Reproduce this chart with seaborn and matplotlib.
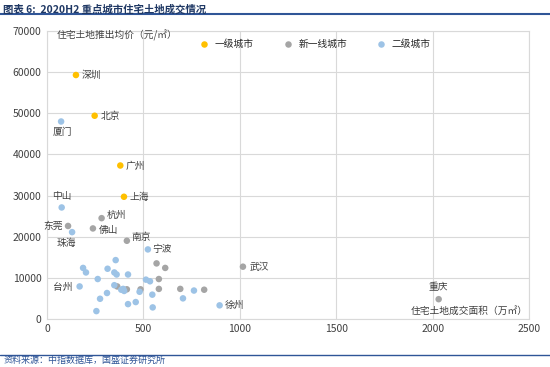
import matplotlib
matplotlib.use("Agg")
import matplotlib.pyplot as plt
import seaborn as sns
import pandas as pd
from matplotlib.lines import Line2D

# 一线城市
tier1_names = ["深圳", "北京", "广州", "上海"]
tier1_area = [150, 247, 380, 399]
tier1_price = [59300, 49400, 37300, 29700]

# 新一线城市
newtier1_names = ["杭州", "东莞", "佛山", "南京", "武汉", "重庆",
                  "", "", "", "", "", "", "", "", ""]
newtier1_area = [283, 109, 238, 414, 1016, 2031,
                 568, 613, 580, 364, 414, 485, 580, 691, 815]
newtier1_price = [24500, 22600, 22000, 19000, 12700, 4800,
                  13500, 12400, 9700, 7900, 7200, 7200, 7300, 7300, 7100]

# 二级城市
tier2_names = ["厦门", "中山", "珠海", "宁波", "台州", "徐州"] + [""] * 24
tier2_area = [73, 76, 130, 523, 169, 895,
              187, 202, 314, 356, 349, 361, 420, 263, 513, 534, 349, 385,
              395, 400, 480, 546, 762, 705, 311, 275, 256, 420, 460, 548]
tier2_price = [48000, 27100, 21100, 16900, 7900, 3300,
               12400, 11300, 12200, 14300, 11300, 10800, 10800, 9700, 9550,
               9150, 8200, 7100, 7300, 6800, 6600, 5900, 6900, 5000, 6300,
               4900, 1900, 3600, 4100, 2800]

tier_labels = ["一级城市", "新一线城市", "二级城市"]
palette = {"一级城市": "#FFC000", "新一线城市": "#A5A5A5", "二级城市": "#9DC3E6"}

df = pd.DataFrame({
    "name": tier1_names + newtier1_names + tier2_names,
    "area": tier1_area + newtier1_area + tier2_area,
    "price": tier1_price + newtier1_price + tier2_price,
    "tier": [tier_labels[0]] * len(tier1_names)
            + [tier_labels[1]] * len(newtier1_names)
            + [tier_labels[2]] * len(tier2_names),
})

# label placement (offset in points, ha, va)
label_pos = {
    "深圳": (4, 0, "left", "center"),
    "北京": (4, 0, "left", "center"),
    "广州": (4, 0, "left", "center"),
    "上海": (4, 0, "left", "center"),
    "厦门": (1, -4, "center", "top"),
    "中山": (0, 5, "center", "bottom"),
    "杭州": (4, 2, "left", "center"),
    "东莞": (-4, 0, "right", "center"),
    "佛山": (4, -1, "left", "center"),
    "南京": (3, 3, "left", "center"),
    "宁波": (3, 0, "left", "center"),
    "武汉": (5, 0, "left", "center"),
    "台州": (-5, 0, "right", "center"),
    "徐州": (4, 0, "left", "center"),
    "珠海": (-4, -4, "center", "top"),
    "重庆": (0, 5, "center", "bottom"),
}

sns.set_theme(style="white")
plt.rcParams["font.family"] = ["Noto Sans CJK SC", "DejaVu Sans"]

fig = plt.figure(figsize=(5.5, 3.67), dpi=100)
ax = fig.add_axes([0.0855, 0.131, 0.8765, 0.7845])

sns.scatterplot(data=df, x="area", y="price", hue="tier", hue_order=tier_labels,
                palette=palette, s=22, linewidth=0, ax=ax, zorder=3)

for _, r in df.iterrows():
    if r["name"]:
        dx, dy, ha, va = label_pos[r["name"]]
        ax.annotate(r["name"], (r["area"], r["price"]), xytext=(dx, dy),
                    textcoords="offset points", ha=ha, va=va,
                    fontsize=7, color="#404040")

ax.set_xlim(0, 2500)
ax.set_ylim(0, 70000)
ax.set_xticks(range(0, 2501, 500))
ax.set_yticks(range(0, 70001, 10000))
ax.grid(True, color="#D9D9D9", linewidth=0.8)
ax.set_axisbelow(True)
for sp in ax.spines.values():
    sp.set_color("#D9D9D9")
    sp.set_linewidth(0.8)
ax.tick_params(labelsize=7.5, colors="#404040", length=0, pad=4)
ax.set_xlabel("")
ax.set_ylabel("")

ax.text(0.02, 0.985, "住宅土地推出均价（元/㎡）", transform=ax.transAxes,
        fontsize=7, color="#404040", ha="left", va="center")
ax.text(0.998, 0.012, "住宅土地成交面积（万㎡）", transform=ax.transAxes,
        fontsize=7, color="#404040", ha="right", va="bottom")

sns.move_legend(ax, "center left", bbox_to_anchor=(0.287, 0.955), ncol=3,
                frameon=False, title=None, fontsize=7, handletextpad=0.1,
                columnspacing=2.5, markerscale=1.0)

fig.text(0.006, 0.988, "图表 6:  2020H2 重点城市住宅土地成交情况", fontsize=7.5,
         fontweight="bold", color="#1F3864", ha="left", va="top", style="italic")
fig.add_artist(Line2D([0.0, 1.0], [0.962, 0.962], transform=fig.transFigure,
                      color="#2F5597", linewidth=1.5))
fig.add_artist(Line2D([0.0, 1.0], [0.033, 0.033], transform=fig.transFigure,
                      color="#2F5597", linewidth=1.0))
fig.text(0.006, 0.018, "资料来源：中指数据库，国盛证券研究所", fontsize=6.5,
         color="#2F5597", ha="left", va="center", style="italic")

fig.savefig("out.png", dpi=100)
plt.close(fig)
